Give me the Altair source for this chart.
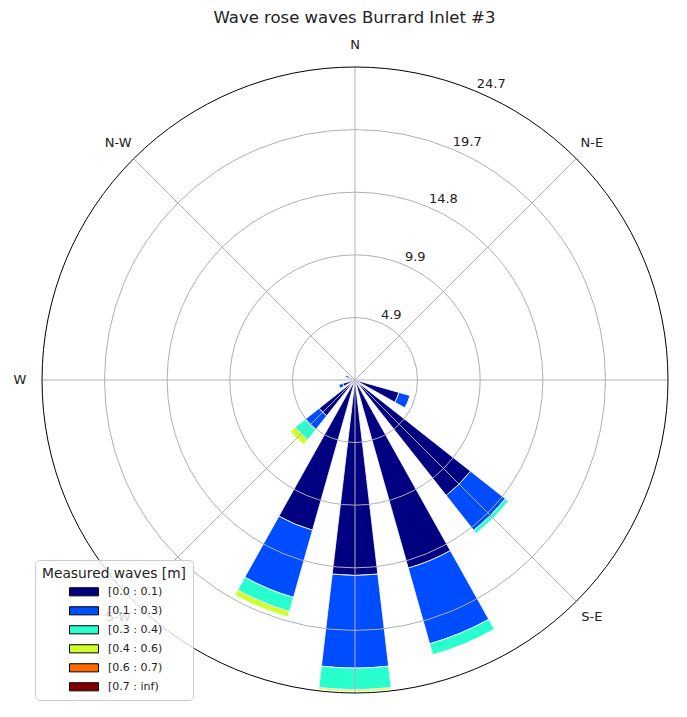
import altair as alt
import pandas as pd

title_text = "Wave rose waves Burrard Inlet #3"
legend_title = "Measured waves [m]"
bin_labels = ["[0.0 : 0.1)", "[0.1 : 0.3)", "[0.3 : 0.4)", "[0.4 : 0.6)", "[0.6 : 0.7)", "[0.7 : inf)"]
bin_colors = ["#000080", "#004cff", "#29ffce", "#ceff29", "#ff6800", "#800000"]

sector_bearing = [112.5, 135.0, 157.5, 180.0, 202.5, 225.0, 247.5, 292.5]
# frequency (%) of each wave height bin per direction sector
freq_00_01 = [3.6, 11.6, 15.4, 15.4, 12.3, 3.6, 1.0, 0.5]
freq_01_03 = [0.9, 3.5, 6.2, 7.3, 5.5, 1.4, 0.33, 0.27]
freq_03_04 = [0.0, 0.3, 0.9, 1.7, 1.15, 1.0, 0.0, 0.0]
freq_04_06 = [0.0, 0.0, 0.0, 0.15, 0.45, 0.5, 0.0, 0.0]
freq_06_07 = [0.0, 0.0, 0.0, 0.0, 0.0, 0.0, 0.0, 0.0]
freq_07_inf = [0.0, 0.0, 0.0, 0.0, 0.0, 0.0, 0.0, 0.0]

ring_values = [4.93, 9.86, 14.80, 19.73]
ring_labels = ["4.9", "9.9", "14.8", "19.7", "24.7"]
r_max = 24.66
compass_labels = ["N", "N-E", "S-E", "S", "S-W", "W", "N-W"]
compass_bearing = [0, 45, 135, 180, 225, 270, 315]
spoke_bearing = [0, 45, 90, 135, 180, 225, 270, 315]
opening = 13.4

CX, CY, R = 347, 372, 313
FONT = "DejaVu Sans"

# build stacked segments
series = [freq_00_01, freq_01_03, freq_03_04, freq_04_06, freq_06_07, freq_07_inf]
rows = []
for i, b in enumerate(sector_bearing):
    acc = 0.0
    for k, s in enumerate(series):
        v = s[i]
        if v > 0:
            rows.append({"bin": bin_labels[k], "order": k, "t0": b - opening / 2,
                         "t1": b + opening / 2, "r0": acc, "r1": acc + v})
            acc += v
bars_df = pd.DataFrame(rows)

tscale = alt.Scale(type="linear", domain=[0, 360], range=[0, 6.283185307179586])
rscale = alt.Scale(type="linear", domain=[0, r_max], range=[0, R], zero=True)
xscale = alt.Scale(domain=[-r_max, r_max], range=[CX - R, CX + R])
yscale = alt.Scale(domain=[-r_max, r_max], range=[CY + R, CY - R])

bars = alt.Chart(bars_df).mark_arc(stroke="white", strokeWidth=0.8).encode(
    x=alt.value(CX), y=alt.value(CY),
    theta=alt.Theta("t0:Q", scale=tscale, stack=False),
    theta2="t1:Q",
    radius=alt.Radius("r1:Q", scale=rscale),
    radius2="r0:Q",
    color=alt.Color("bin:N", scale=alt.Scale(domain=bin_labels, range=bin_colors),
                    legend=alt.Legend(
                        title=legend_title, orient="none", legendX=27, legendY=552,
                        padding=7, fillColor="rgba(255,255,255,0.8)", strokeColor="#cccccc",
                        cornerRadius=4, titleFontSize=13.8, titleFont=FONT,
                        titleFontWeight="normal", titleColor="#222222", titlePadding=5,
                        labelFontSize=11, labelFont=FONT, labelColor="#222222",
                        symbolType="M-1,-0.28L1,-0.28L1,0.28L-1,0.28Z", symbolSize=841,
                        symbolStrokeColor="black", symbolStrokeWidth=1, symbolOpacity=1,
                        symbolOffset=27, labelOffset=9, clipHeight=12, rowPadding=7)),
    order=alt.Order("order:Q"),
)

rings_df = pd.DataFrame({"r": ring_values, "t0": [0] * len(ring_values), "t1": [360] * len(ring_values)})
rings = alt.Chart(rings_df).mark_arc(filled=False, stroke="#b0b0b0", strokeWidth=1).encode(
    x=alt.value(CX), y=alt.value(CY),
    theta=alt.Theta("t0:Q", scale=tscale, stack=False), theta2="t1:Q",
    radius=alt.Radius("r:Q", scale=rscale),
)

outer_df = pd.DataFrame({"r": [r_max], "t0": [0], "t1": [360]})
outer = alt.Chart(outer_df).mark_arc(filled=False, stroke="#000000", strokeWidth=1).encode(
    x=alt.value(CX), y=alt.value(CY),
    theta=alt.Theta("t0:Q", scale=tscale, stack=False), theta2="t1:Q",
    radius=alt.Radius("r:Q", scale=rscale),
)

spokes_df = pd.DataFrame({"b": spoke_bearing, "r": [r_max] * len(spoke_bearing)})
spokes = alt.Chart(spokes_df).transform_calculate(
    x0="0", y0="0",
    x1="datum.r * sin(datum.b * PI / 180)",
    y1="datum.r * cos(datum.b * PI / 180)",
).mark_rule(color="#b0b0b0", strokeWidth=1).encode(
    x=alt.X("x0:Q", scale=xscale, axis=None),
    y=alt.Y("y0:Q", scale=yscale, axis=None),
    x2="x1:Q", y2="y1:Q",
)

rlab_df = pd.DataFrame({"r": ring_values + [r_max], "label": ring_labels, "t": [22.5] * 5})
rlabels = alt.Chart(rlab_df).mark_text(
    align="left", baseline="alphabetic", dx=2, dy=-3, fontSize=13, font=FONT, color="#222222"
).encode(
    x=alt.value(CX), y=alt.value(CY),
    theta=alt.Theta("t:Q", scale=tscale, stack=False),
    radius=alt.Radius("r:Q", scale=rscale),
    text="label:N",
)

clab_df = pd.DataFrame({"label": compass_labels, "t": compass_bearing, "r": [r_max] * len(compass_labels)})
clabels = alt.Chart(clab_df).mark_text(
    align="center", baseline="middle", fontSize=13, font=FONT, color="#222222", radiusOffset=22
).encode(
    x=alt.value(CX), y=alt.value(CY),
    theta=alt.Theta("t:Q", scale=tscale, stack=False),
    radius=alt.Radius("r:Q", scale=rscale),
    text="label:N",
)

chart = alt.layer(bars, rings, spokes, outer, rlabels, clabels).properties(
    width=671, height=701,
    padding={"left": 0, "top": 0, "right": 0, "bottom": 0},
    autosize=alt.AutoSizeParams(type="none"),
    title=alt.TitleParams(title_text, fontSize=16.5, font=FONT, fontWeight="normal",
                          color="#222222", anchor="middle", dx=11, offset=-18),
).configure_view(strokeWidth=0)

chart.save("out.html", embed_options={"renderer": "svg", "actions": False})
